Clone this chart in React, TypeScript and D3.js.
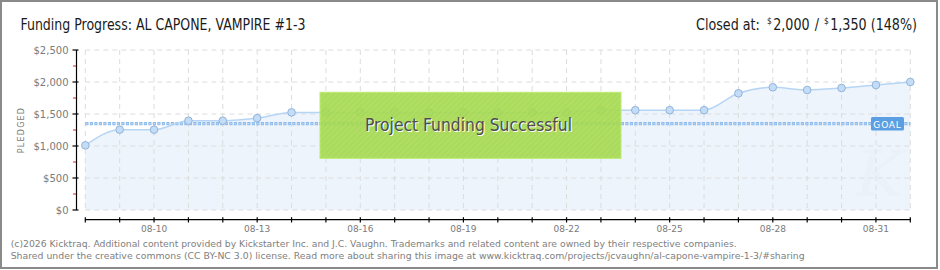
import React, { useLayoutEffect, useRef, useState } from "react";
import * as d3 from "d3";

const dates = [
  "08-08", "08-09", "08-10", "08-11", "08-12", "08-13", "08-14", "08-15", "08-16",
  "08-17", "08-18", "08-19", "08-20", "08-21", "08-22", "08-23", "08-24", "08-25",
  "08-26", "08-27", "08-28", "08-29", "08-30", "08-31", "09-01",
];
const pledged = [
  1010, 1255, 1255, 1395, 1395, 1435, 1525, 1525, 1525, 1525, 1525, 1525, 1525,
  1525, 1525, 1560, 1560, 1560, 1560, 1823, 1917, 1875, 1906, 1953, 2000,
];
const tickLabels = ["08-10", "08-13", "08-16", "08-19", "08-22", "08-25", "08-28", "08-31"];
const yTicks = [0, 500, 1000, 1500, 2000, 2500];
const yMinorTicks = [250, 750, 1250, 1750, 2250];
const goal = 1350;
const titleText = "Funding Progress: AL CAPONE, VAMPIRE #1-3";
const closedTexts = ["Closed at:", "$", "2,000", "/", "$", "1,350", "(148%)"];
const closedSuper = [false, true, false, false, true, false, false];
const footer1 =
  "(c)2026 Kicktraq. Additional content provided by Kickstarter Inc. and J.C. Vaughn. Trademarks and related content are owned by their respective companies.";
const footer2 =
  "Shared under the creative commons (CC BY-NC 3.0) license. Read more about sharing this image at www.kicktraq.com/projects/jcvaughn/al-capone-vampire-1-3/#sharing";

const W = 940;
const H = 270;
const L = 85.3;
const R = 910.3;
const T = 50;
const B = 210;
const closedGaps = [7, 1.5, 5, 5, 1.5, 4, 0];

export default function App() {
  const x = d3.scalePoint<string>().domain(dates).range([L, R]);
  const y = d3.scaleLinear().domain([0, 2500]).range([B, T]);
  const pts = dates.map((d, i) => [x(d) as number, y(pledged[i])] as [number, number]);
  const line = d3.line<[number, number]>().x((d) => d[0]).y((d) => d[1]).curve(d3.curveMonotoneX);
  const area = d3
    .area<[number, number]>()
    .x((d) => d[0])
    .y0(y(0))
    .y1((d) => d[1])
    .curve(d3.curveMonotoneX);
  const fmt = (v: number) => "$" + d3.format(",")(v);
  const gy = y(goal);
  const titleFont = "'DejaVu Sans Condensed', 'DejaVu Sans', sans-serif";
  const smallFont = "'DejaVu Sans', Verdana, sans-serif";

  const refs = useRef<(SVGTextElement | null)[]>([]);
  const [layout, setLayout] = useState<{ xs: number[]; sx: number } | null>(null);
  useLayoutEffect(() => {
    const widths = closedTexts.map((_, i) => refs.current[i]?.getComputedTextLength() || 0);
    const gapSum = closedGaps.reduce((a, b) => a + b, 0);
    const natural = widths.reduce((a, b) => a + b, 0);
    const start = 696;
    const end = 917;
    const sx = natural > 0 ? (end - start - gapSum) / natural : 1;
    const xs: number[] = [];
    let cx = start;
    widths.forEach((w, i) => {
      xs.push(cx);
      cx += w * sx + closedGaps[i];
    });
    setLayout({ xs, sx });
  }, []);

  return (
    <svg
      width={W}
      height={H}
      style={{ position: "absolute", left: 0, top: 0, display: "block" }}
      xmlns="http://www.w3.org/2000/svg"
    >
      <defs>
        <pattern id="hatch" width="4" height="4" patternUnits="userSpaceOnUse" patternTransform="rotate(45)">
          <line x1="0" y1="0" x2="0" y2="4" stroke="#ffffff" strokeOpacity="0.12" strokeWidth="1.5" />
        </pattern>
      </defs>
      <rect x={1} y={1} width={936} height={267} fill="#fff" stroke="#8a8a8a" strokeWidth={2} />

      {/* title */}
      <text
        x={20.5}
        y={30}
        fontFamily={titleFont}
        fontSize={16}
        fill="#1a1a1a"
        textLength={285}
        lengthAdjust="spacingAndGlyphs"
      >
        {titleText}
      </text>
      <g fontFamily={titleFont} fill="#1a1a1a" visibility={layout ? "visible" : "hidden"}>
        {closedTexts.map((t, i) => {
          const tx = layout ? layout.xs[i] : 696;
          const sx = layout ? layout.sx : 1;
          const ty = closedSuper[i] ? 24 : 30;
          return (
            <text
              key={"cl" + i}
              ref={(el) => {
                refs.current[i] = el;
              }}
              transform={`translate(${tx},${ty}) scale(${sx},1)`}
              fontSize={closedSuper[i] ? 9.5 : 16}
            >
              {t}
            </text>
          );
        })}
      </g>

      {/* area */}
      <path d={area(pts) || ""} fill="#edf4fc" />

      {/* grid */}
      {dates.map((d) => (
        <line
          key={"gv" + d}
          x1={x(d)}
          x2={x(d)}
          y1={T}
          y2={B}
          stroke="#dcdcdc"
          strokeDasharray="5,4"
          strokeWidth={1}
        />
      ))}
      {yTicks.map((v) => (
        <line
          key={"gh" + v}
          x1={L}
          x2={R}
          y1={y(v)}
          y2={y(v)}
          stroke="#dcdcdc"
          strokeDasharray="5,4"
          strokeWidth={1}
        />
      ))}

      {/* watermark */}
      <text
        x={880}
        y={196}
        textAnchor="middle"
        fontFamily="'DejaVu Serif', serif"
        fontStyle="italic"
        fontSize={64}
        fill="#e6edf6"
        fillOpacity={0.45}
      >
        K
      </text>

      {/* goal line */}
      <line x1={L} x2={R} y1={gy} y2={gy} stroke="#8fbbea" strokeWidth={3.4} strokeDasharray="3.2,1.3" />
      <line x1={L} x2={R} y1={gy} y2={gy} stroke="#b9d6f4" strokeWidth={1.2} strokeDasharray="1.6,2.9" strokeDashoffset={-0.8} />

      {/* line + points */}
      <path d={line(pts) || ""} fill="none" stroke="#b6d5f4" strokeWidth={1.5} />
      {pts.map((p, i) => (
        <circle key={"c" + i} cx={p[0]} cy={p[1]} r={3.8} fill="#c3ddf8" stroke="#93b3d8" strokeWidth={1} />
      ))}

      {/* GOAL label */}
      <rect x={871} y={117} width={33} height={13.5} rx={1.5} fill="#5b9ee1" />
      <text
        x={887.5}
        y={127.5}
        textAnchor="middle"
        fontFamily={smallFont}
        fontSize={9}
        fill="#fff"
        letterSpacing={0.8}
      >
        GOAL
      </text>

      {/* success banner */}
      <rect x={320} y={92.3} width={301} height={66} fill="#a3d84a" fillOpacity={0.9} stroke="#b9eb6c" strokeWidth={1} />
      <rect x={320} y={92.3} width={301} height={66} fill="url(#hatch)" />
      <text
        x={469.5}
        y={132}
        textAnchor="middle"
        fontFamily={titleFont}
        fontSize={17}
        fill="#fff"
        textLength={207}
        lengthAdjust="spacingAndGlyphs"
      >
        Project Funding Successful
      </text>
      <text
        x={468.5}
        y={131}
        textAnchor="middle"
        fontFamily={titleFont}
        fontSize={17}
        fill="#4d4d4d"
        textLength={207}
        lengthAdjust="spacingAndGlyphs"
      >
        Project Funding Successful
      </text>

      {/* y axis */}
      <line x1={76.5} x2={76.5} y1={T} y2={B} stroke="#000" strokeWidth={1.2} />
      {yTicks.map((v) => (
        <g key={"yt" + v}>
          <line x1={72.5} x2={78.5} y1={y(v)} y2={y(v)} stroke="#000" strokeWidth={1.2} />
          <text
            x={68.5}
            y={y(v) + 3.5}
            textAnchor="end"
            fontFamily={smallFont}
            fontSize={10}
            fill="#7a7a7a"
          >
            {fmt(v)}
          </text>
        </g>
      ))}
      {yMinorTicks.map((v) => (
        <line key={"ym" + v} x1={73} x2={76} y1={y(v)} y2={y(v)} stroke="#e02020" strokeWidth={1} />
      ))}
      <text
        transform={`translate(23.5,130) rotate(-90)`}
        textAnchor="middle"
        fontFamily={smallFont}
        fontSize={8}
        fill="#7a7a7a"
        letterSpacing={1.2}
      >
        PLEDGED
      </text>

      {/* x axis */}
      <line x1={L} x2={R + 0.5} y1={219.7} y2={219.7} stroke="#000" strokeWidth={1.2} />
      {dates.map((d) => (
        <line key={"xt" + d} x1={x(d)} x2={x(d)} y1={217.2} y2={222.5} stroke="#000" strokeWidth={1.2} />
      ))}
      {tickLabels.map((d) => (
        <text
          key={"xl" + d}
          x={x(d)}
          y={231.5}
          textAnchor="middle"
          fontFamily={smallFont}
          fontSize={9}
          fill="#7a7a7a"
        >
          {d}
        </text>
      ))}

      {/* footer */}
      <text
        x={10.7}
        y={247}
        fontFamily={smallFont}
        fontSize={9.5}
        fill="#808080"
        textLength={726}
        lengthAdjust="spacingAndGlyphs"
      >
        {footer1}
      </text>
      <text
        x={10.7}
        y={259}
        fontFamily={smallFont}
        fontSize={9.5}
        fill="#808080"
        textLength={794}
        lengthAdjust="spacingAndGlyphs"
      >
        {footer2}
      </text>
    </svg>
  );
}
